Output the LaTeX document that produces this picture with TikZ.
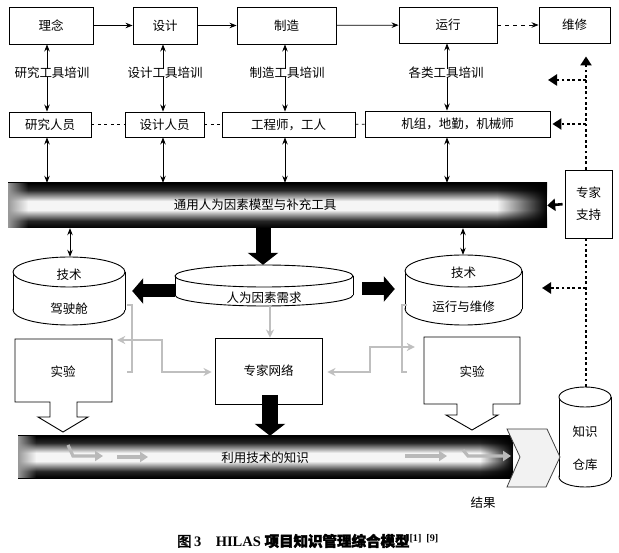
\documentclass[tikz,border=0pt]{standalone}
\usepackage{fontspec}
\setmainfont{Noto Sans CJK SC}
\newfontfamily\capcjk{Noto Sans CJK SC}[FakeBold=2.5]
\newfontfamily\caplat{Liberation Serif}
\usetikzlibrary{arrows.meta,fadings}
\pgfdeclareverticalshading{barshade}{100bp}{color(0bp)=(black); color(25bp)=(black); color(33bp)=(black!85); color(45bp)=(gray!8); color(55bp)=(gray!8); color(67bp)=(black!85); color(75bp)=(black); color(100bp)=(black)}
\tikzfading[name=fadeR, left color=transparent!100, right color=transparent!0]
\tikzfading[name=fadeL, left color=transparent!0, right color=transparent!100]
\newcommand\myfs{\fontsize{12.5}{15}\selectfont}
% cylinder: cx, rx, ytop, ybot, ry
\newcommand\mycyl[5]{%
  \draw[line width=0.9pt, fill=white] (#1,#4-#5) ellipse [x radius=#2pt, y radius=#5pt];
  \fill[white] (#1-#2,#3+#5) rectangle (#1+#2,#4-#5);
  \draw[line width=0.9pt] (#1-#2,#3+#5) -- (#1-#2,#4-#5) (#1+#2,#3+#5) -- (#1+#2,#4-#5);
  \draw[line width=0.9pt, fill=white] (#1,#3+#5) ellipse [x radius=#2pt, y radius=#5pt];
}
\tikzset{
  box/.style={draw, line width=0.9pt, inner sep=0pt, font=\myfs},
  txt/.style={inner sep=0pt, font=\myfs},
  arr/.style={line width=0.8pt, -{Stealth[length=7pt,width=5.5pt]}},
  darr/.style={line width=0.8pt, {Stealth[length=7pt,width=5.5pt]}-{Stealth[length=7pt,width=5.5pt]}},
  dsh/.style={line width=0.8pt, dash pattern=on 3pt off 3.5pt},
  dotarr/.style={line width=2.8pt, dash pattern=on 2.8pt off 2.6pt, -{Triangle[length=9pt,width=11pt]}},
  garr/.style={draw=gray!50, line width=2pt, {Stealth[length=8pt,width=8pt]}-{Stealth[length=8pt,width=8pt]}},
  gline/.style={draw=gray!50, line width=2pt},
  gin/.style={draw=gray!55, line width=3.2pt, -{Triangle[length=8pt,width=10pt]}},
  blk/.style={line width=#1, -{Triangle[width=30pt,length=12pt]}},
  blkh/.style={line width=13pt, -{Triangle[width=25pt,length=11pt]}},
  blockarrow/.style={draw, line width=0.9pt, fill=white},
}
\begin{document}
\begin{tikzpicture}[x=1pt,y=-1pt]
\useasboundingbox[fill=white] (0,0) rectangle (619,553);

% row 1
\node[box, minimum width=84pt, minimum height=37pt] (lina) at (51,25.5) {理念};
\node[box, minimum width=64pt, minimum height=37pt] (sheji) at (165,25.5) {设计};
\node[box, minimum width=99pt, minimum height=37pt] (zhizao) at (286.5,25.5) {制造};
\node[box, minimum width=98pt, minimum height=36pt] (yunxing) at (448,25) {运行};
\node[box, minimum width=71pt, minimum height=36pt] (weixiu) at (574.5,25) {维修};
\draw[arr] (lina) -- (sheji);
\draw[arr] (sheji) -- (zhizao);
\draw[arr] (zhizao) -- (yunxing);
\draw[arr, dash pattern=on 4pt off 4pt] (yunxing) -- (weixiu);

% training labels
\node[txt] (l1) at (52,73) {研究工具培训};
\node[txt] (l2) at (165,73) {设计工具培训};
\node[txt] (l3) at (287,73) {制造工具培训};
\node[txt] (l4) at (446,73) {各类工具培训};
\coordinate (ax1) at (47,0);
\coordinate (ax2) at (163,0);
\coordinate (ax3) at (285,0);
\coordinate (ax4) at (447,0);

% row 2
\node[box, minimum width=82pt, minimum height=25pt] (r1) at (50,124.5) {研究人员};
\node[box, minimum width=79pt, minimum height=25pt] (r2) at (164.5,124.5) {设计人员};
\node[box, minimum width=133pt, minimum height=25pt] (r3) at (288.5,124.5) {工程师，工人};
\node[box, minimum width=185pt, minimum height=26pt] (r4) at (457.5,124) {机组，地勤，机械师};
\draw[dsh] (r1) -- (r2);
\draw[dsh] (r2) -- (r3);
\draw[dsh] (r3) -- (r4);

\foreach \a/\l/\t/\r in {ax1/l1/lina/r1, ax2/l2/sheji/r2, ax3/l3/zhizao/r3, ax4/l4/yunxing/r4}{
  \draw[arr] ([yshift=-2pt]\a |- \l.north) -- (\a |- \t.south);
  \draw[arr] ([yshift=2pt]\a |- \l.south) -- (\a |- \r.north);
}

% top bar
\node[shade, shading=barshade, minimum width=539pt, minimum height=45pt, inner sep=0pt] (bar) at (277.5,205.5) {};
\fill[black, path fading=fadeR] (497,183) rectangle (547,228);
\fill[black!40, path fading=fadeL] (8,183) rectangle (28,228);
\node[txt] (barT) at (255,205) {通用人为因素模型与补充工具};
\foreach \a/\r in {ax1/r1, ax2/r2, ax3/r3, ax4/r4}{
  \draw[darr] (\a |- \r.south) -- (\a |- bar.north);
}

% expert support
\node[box, minimum width=47pt, minimum height=68pt, align=center] (zj) at (588.5,204) {专家\\[7pt]支持};
\draw[line width=2.6pt, -{Triangle[length=8pt,width=12pt]}, shorten <=2pt] (zj.west) -- (bar.east);

% cylinders
\mycyl{69}{56}{257}{325}{15}
\node[inner sep=0pt, minimum width=112pt, minimum height=68pt] (cylL) at (69,291) {};
\node[txt] (cylLa) at (69,275) {技术};
\node[txt] (cylLb) at (69,309) {驾驶舱};

\mycyl{463.5}{58.5}{255}{325}{16}
\node[inner sep=0pt, minimum width=117pt, minimum height=70pt] (cylR) at (463.5,290) {};
\node[txt] (cylRa) at (463.5,273) {技术};
\node[txt] (cylRb) at (463.5,307) {运行与维修};

\mycyl{264}{89}{265}{306}{11}
\node[inner sep=0pt, minimum width=178pt, minimum height=41pt] (cylM) at (264,285.5) {};
\node[txt] (cylMa) at (264,298) {人为因素需求};

\mycyl{585}{26}{387}{487}{10}
\node[inner sep=0pt, minimum width=52pt, minimum height=100pt] (cylK) at (585,437) {};
\node[txt] (cylKa) at (585,432) {知识};
\node[txt] (cylKb) at (585,465) {仓库};

\coordinate (cx1) at (70,0);
\coordinate (cx2) at (463,0);
\coordinate (cx3) at (263,0);
\coordinate (cx4) at (270,0);
\draw[darr] (cx1 |- bar.south) -- (cx1 |- cylL.north);
\draw[darr] (cx2 |- bar.south) -- (cx2 |- cylR.north);

% black block arrows
\coordinate (hy1) at (0,291);
\coordinate (hy2) at (0,289);
\draw[blk=15pt] (cx3 |- bar.south) -- (cx3 |- cylM.north);
\draw[blkh] (cylM.west |- hy1) -- ([xshift=7pt]cylL.east |- hy1);
\draw[blkh] ([xshift=9pt]cylM.east |- hy2) -- ([xshift=-10pt]cylR.west |- hy2);

% dotted expert lines
\coordinate (dx) at (586,0);
\draw[line width=2.8pt, dash pattern=on 2.8pt off 2.6pt] (dx |- cylK.north) -- (dx |- zj.south);
\draw[dotarr, shorten >=13pt] (dx |- zj.north) -- (dx |- weixiu.south);
\coordinate (d1) at (548,80);
\coordinate (d3) at (542,288);
\draw[dotarr] (dx |- d1) -- (d1);
\draw[dotarr, shorten >=2pt] (dx |- r4.east) -- (r4.east);
\draw[dotarr] (dx |- d3) -- (d3);

% expert network and experiments
\node[box, minimum width=107pt, minimum height=66pt] (zjw) at (268.5,371) {专家网络};
\node[txt, minimum width=97pt, minimum height=63pt] (syL) at (63.5,370.5) {};
\draw[blockarrow] (15,339) -- (112,339) -- (112,402) -- (77,402) -- (77,417) -- (88,417) -- (63,432) -- (38,417) -- (50,417) -- (50,402) -- (15,402) -- cycle;
\node[txt] (syLt) at (63,372) {实验};
\node[txt, minimum width=96pt, minimum height=67pt] (syR) at (472,370.5) {};
\draw[blockarrow] (424,337) -- (520,337) -- (520,404) -- (493,404) -- (493,415) -- (498,415) -- (472,430) -- (446,415) -- (457,415) -- (457,404) -- (424,404) -- cycle;
\node[txt] (syRt) at (472,372) {实验};

% gray connectors
\draw[gline, -{Stealth[length=8pt,width=8pt]}] (cx4 |- cylM.south) -- (cx4 |- zjw.north);
\draw[gline] (127,305) -- (132,305) -- (132,372) -- (127,372);
\draw[gline] (407,305) -- (402,305) -- (402,372) -- (407,372);
\coordinate (gL1) at (162,340);
\coordinate (gL2) at (162,372);
\draw[garr, shorten <=5pt, shorten >=3pt] (syL.east |- gL1) -- (gL1) -- (gL2) -- (zjw.west |- gL2);
\coordinate (gR1) at (370,372);
\coordinate (gR2) at (370,347);
\draw[garr, shorten <=5pt, shorten >=9pt] (zjw.east |- gR1) -- (gR1) -- (gR2) -- (syR.west |- gR2);

% bottom bar
\node[shade, shading=barshade, minimum width=495pt, minimum height=42pt, inner sep=0pt] (bar2) at (265.5,457) {};
\fill[black, path fading=fadeR] (480,436) rectangle (513,478);
\fill[black!40, path fading=fadeL] (18,436) rectangle (36,478);
\coordinate (bs) at (270,395);
\draw[blk=16pt] (bs) -- (cx4 |- bar2.north);
\node[txt] (bar2T) at (265,458) {利用技术的知识};
\draw[gin] (68,445) -- (73,456) -- (103,456);
\draw[gin] (117,457) -- (148,457);
\draw[gin] (405,456) -- (447,456);
\draw[gin] (463,450) -- (468,456) -- (511,456);

% result chevron
\draw[draw=black!75, line width=0.8pt, fill=gray!10] (507,429) -- (547,429) -- (560,457) -- (546,487) -- (507,487) -- (520,457) -- cycle;
\node[inner sep=0pt, minimum width=53pt, minimum height=58pt] (res) at (533.5,458) {};
\node[txt] (resT) at (483,503) {结果};

% caption
\node[inner sep=0pt, font=\fontsize{14.5}{16}\selectfont] (cap) at (308,541) {\capcjk 图\caplat\bfseries\,3\quad HILAS \capcjk 项目知识管理综合模型\caplat\bfseries\textsuperscript{[1]\ \ [9]}};
\end{tikzpicture}
\end{document}
